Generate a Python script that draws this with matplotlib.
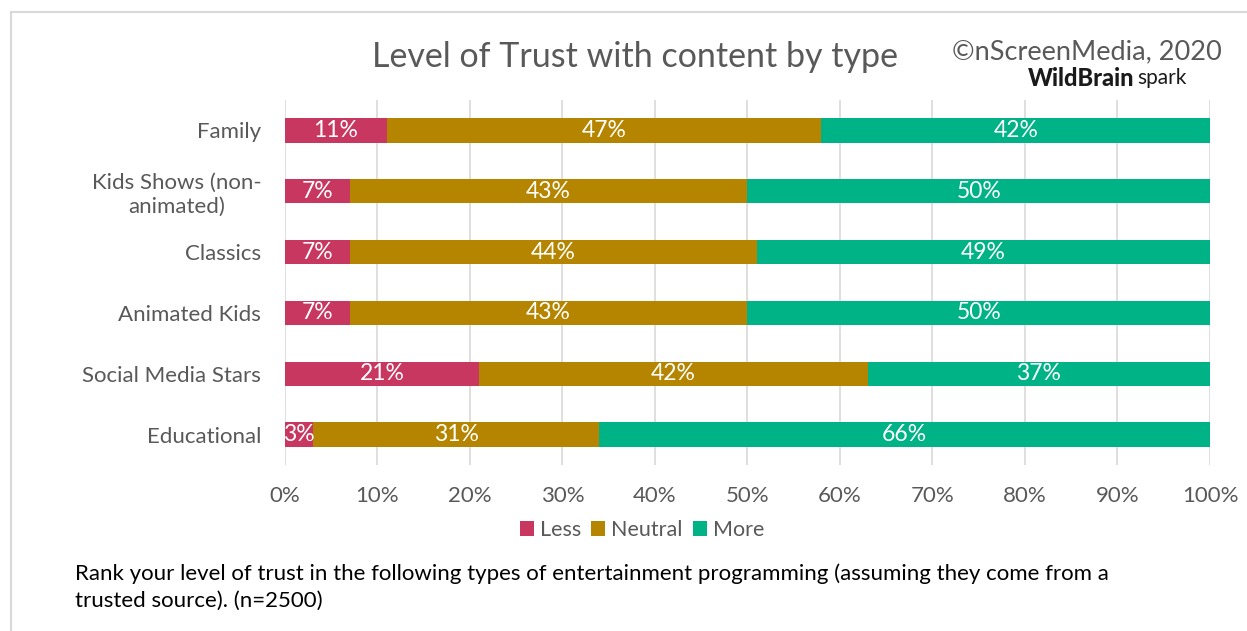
import matplotlib.pyplot as plt

plt.rcParams['font.family'] = ['Lato', 'DejaVu Sans']

categories = ['Family', 'Kids Shows (non-\nanimated)', 'Classics', 'Animated Kids',
              'Social Media Stars', 'Educational']
less = [11, 7, 7, 7, 21, 3]
neutral = [47, 43, 44, 43, 42, 31]
more = [42, 50, 49, 50, 37, 66]
series_names = ['Less', 'Neutral', 'More']
colors = ['#C8375F', '#B58500', '#00B386']
xticks = [0, 10, 20, 30, 40, 50, 60, 70, 80, 90, 100]

fig = plt.figure(figsize=(12.47, 6.31), dpi=100)
ax = fig.add_axes([0.2285, 0.263, 0.7418, 0.5785])

y = list(range(len(categories)))
left = [0] * len(categories)
for vals, name, col in zip([less, neutral, more], series_names, colors):
    bars = ax.barh(y, vals, left=left, height=0.4, color=col, label=name, zorder=3)
    for b, v in zip(bars, vals):
        ax.text(b.get_x() + b.get_width() / 2, b.get_y() + b.get_height() / 2,
                f'{v}%', ha='center', va='center', color='white', fontsize=16.5, zorder=4)
    left = [l + v for l, v in zip(left, vals)]

ax.set_xlim(0, 100)
ax.set_ylim(len(categories) - 0.5, -0.5)
ax.set_xticks(xticks)
ax.set_xticklabels([f'{t}%' for t in xticks])
ax.set_yticks(y)
ax.set_yticklabels(categories)
for lab in ax.get_yticklabels():
    lab.set_multialignment('center')
ax.tick_params(axis='both', length=0, labelsize=16, colors='#595959')
ax.tick_params(axis='x', pad=15)
ax.tick_params(axis='y', pad=17)
ax.grid(axis='x', color='#D9D9D9', linewidth=1.2, zorder=0)
for s in ax.spines.values():
    s.set_visible(False)

ax.legend(loc='center', bbox_to_anchor=(642 / 1247, 1 - 530 / 631),
          bbox_transform=fig.transFigure, ncol=3, frameon=False,
          fontsize=15.5, handlelength=0.65, handleheight=0.65, handletextpad=0.3,
          columnspacing=0.45, labelcolor='#595959', borderpad=0)

fig.text(0.509, 1 - 57 / 631, 'Level of Trust with content by type', ha='center', va='center',
         fontsize=24.5, color='#595959')
fig.text(1222 / 1247, 1 - 52 / 631, '\u00a9nScreenMedia, 2020', ha='right', va='center',
         fontsize=19.5, color='#595959')
fig.text(1134 / 1247, 1 - 78 / 631, 'WildBrain', ha='right', va='center', fontsize=17,
         fontweight='black', color='#1a1a1a')
fig.text(1137 / 1247, 1 - 78 / 631, 'spark', ha='left', va='center', fontsize=15,
         color='#1a1a1a')

fig.text(75 / 1247, 1 - 587 / 631, 'Rank your level of trust in the following types of entertainment programming '
         '(assuming they come from a\ntrusted source). (n=2500)', ha='left', va='center',
         fontsize=16, color='black', linespacing=1.45)

# outer frame (top and left edges only)
fig.add_artist(plt.Line2D([11 / 1247, 1], [1 - 12 / 631] * 2, color='#D9D9D9', lw=1.5))
fig.add_artist(plt.Line2D([11 / 1247] * 2, [0, 1 - 12 / 631], color='#D9D9D9', lw=1.5))

fig.savefig('out.png', dpi=100)
